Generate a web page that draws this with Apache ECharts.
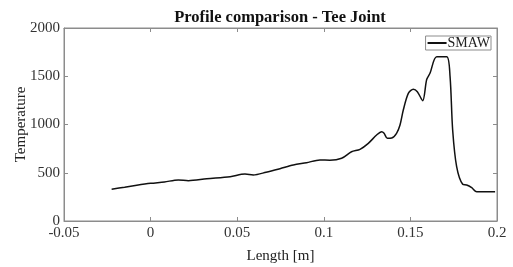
<!DOCTYPE html>
<html><head><meta charset="utf-8">
<script src="https://cdn.jsdelivr.net/npm/echarts@6/dist/echarts.min.js"></script>
<style>html,body{margin:0;padding:0;background:#fff}#c{width:513px;height:267px}</style>
</head><body><div id="c"></div>
<script>
var titleText = 'Profile comparison - Tee Joint';
var seriesName = 'SMAW';
var xLabel = 'Length [m]';
var yLabel = 'Temperature';
var lengthVals = [-0.0225, -0.015, -0.008, 0, 0.008, 0.016, 0.0218, 0.0324, 0.0459, 0.0545, 0.0593, 0.0667, 0.0747, 0.0824, 0.090, 0.0978, 0.1035, 0.1103, 0.116, 0.1209, 0.1257, 0.1305, 0.1334, 0.1348, 0.1367, 0.1392, 0.142, 0.144, 0.1459, 0.1488, 0.1517, 0.154, 0.1571, 0.1594, 0.1613, 0.1652, 0.171, 0.1729, 0.1744, 0.1767, 0.1802, 0.1825, 0.1854, 0.1883, 0.1989];
var tempVals = [330, 350, 370, 390, 405, 425, 418, 438, 459, 487, 477, 505, 542, 580, 604, 632, 630, 650, 718, 743, 805, 891, 925, 909, 857, 860, 909, 995, 1150, 1323, 1365, 1340, 1247, 1466, 1531, 1703, 1703, 1496, 943, 563, 380, 373, 345, 304, 304];
var xTicks = [-0.05, 0, 0.05, 0.1, 0.15, 0.2];
var yTicks = [0, 500, 1000, 1500, 2000];

var data = lengthVals.map(function(x, i){ return [x, tempVals[i]]; });
var font = '"Liberation Serif", "Times New Roman", serif';
var axisCol = '#8c8c8c';
var chart = echarts.init(document.getElementById('c'), null, {renderer: 'canvas'});
function fmtX(v){ var r = Math.round(v*100)/100; return String(r); }
function fmtY(v){ return String(Math.round(v)); }
var tickStyle = {show: true, inside: true, length: 4, lineStyle: {color: axisCol}};
var lineSt = {show: true, onZero: false, lineStyle: {color: axisCol}};
chart.setOption({
  animation: false,
  title: {text: titleText, left: 275, top: 4, textAlign: 'center',
    textStyle: {fontFamily: font, fontSize: 16.5, fontWeight: 'bold', color: '#111'}},
  grid: {left: 64, right: 16, top: 28, bottom: 46, show: true, borderColor: axisCol, borderWidth: 1,
    containLabel: false, outerBoundsMode: 'none'},
  legend: {right: 22, top: 36, orient: 'vertical', itemWidth: 19, itemHeight: 2, itemGap: 0,
    padding: [0, 1, 0, 2], borderColor: axisCol, borderWidth: 1, backgroundColor: '#fff',
    textStyle: {fontFamily: font, fontSize: 14, color: '#222', lineHeight: 13, padding: [0,0,0,-4]},
    data: [{name: seriesName, icon: 'rect'}]},
  xAxis: [{
    type: 'value', min: xTicks[0], max: xTicks[xTicks.length-1], interval: 0.05,
    name: xLabel, nameLocation: 'middle', nameGap: 28, nameMoveOverlap: false,
    nameTextStyle: {fontFamily: font, fontSize: 15, color: '#222'},
    axisLine: lineSt, axisTick: tickStyle,
    axisLabel: {fontFamily: font, fontSize: 15, color: '#333', margin: 5, formatter: fmtX},
    splitLine: {show: false}
  }, {
    type: 'value', position: 'top', min: xTicks[0], max: xTicks[xTicks.length-1], interval: 0.05,
    axisLine: lineSt, axisTick: tickStyle,
    axisLabel: {show: false}, splitLine: {show: false}
  }],
  yAxis: [{
    type: 'value', min: yTicks[0], max: yTicks[yTicks.length-1], interval: 500,
    name: yLabel, nameLocation: 'middle', nameGap: 35, nameMoveOverlap: false,
    nameTextStyle: {fontFamily: font, fontSize: 15, color: '#222'},
    axisLine: lineSt, axisTick: tickStyle,
    axisLabel: {fontFamily: font, fontSize: 15, color: '#333', margin: 4, formatter: fmtY},
    splitLine: {show: false}
  }, {
    type: 'value', position: 'right', min: yTicks[0], max: yTicks[yTicks.length-1], interval: 500,
    axisLine: lineSt, axisTick: tickStyle,
    axisLabel: {show: false}, splitLine: {show: false}
  }],
  series: [{
    name: seriesName, type: 'line', data: data, showSymbol: false, smooth: 0.3,
    lineStyle: {color: '#111', width: 1.5}, itemStyle: {color: '#111'}
  }]
});
</script></body></html>
